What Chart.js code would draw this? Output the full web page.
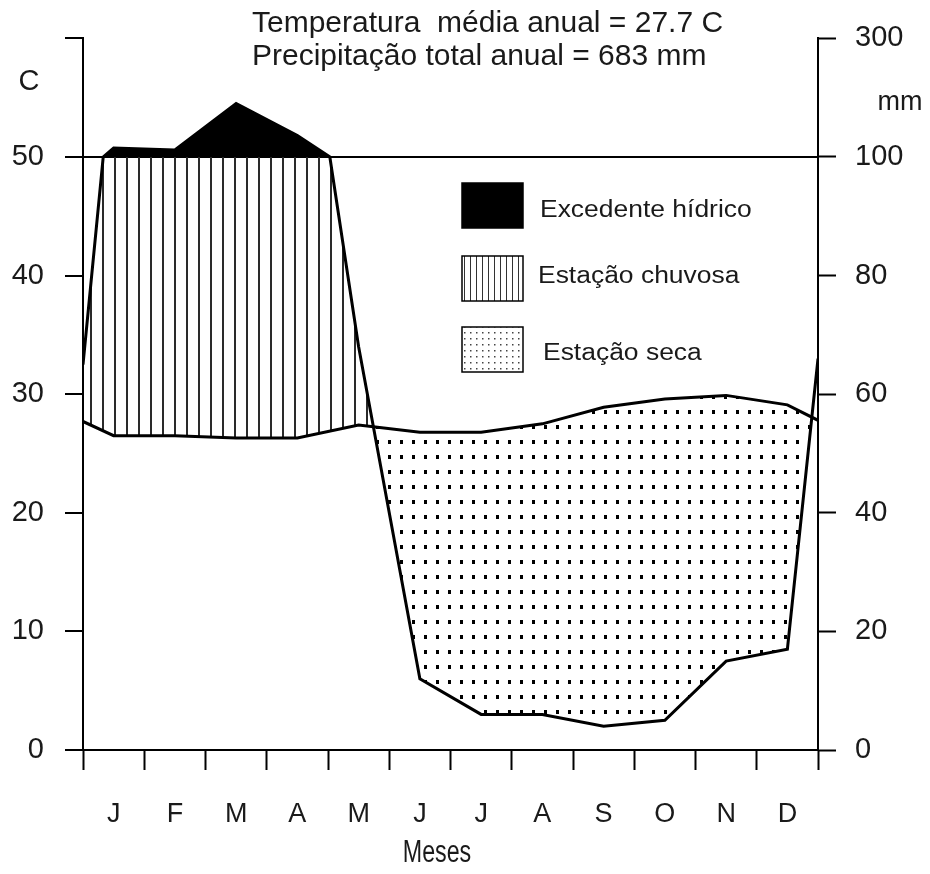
<!DOCTYPE html>
<html lang="pt">
<head>
<meta charset="utf-8">
<title>Diagrama climático</title>
<script src="https://cdn.jsdelivr.net/npm/chart.js@4.4.1/dist/chart.umd.min.js"></script>
<style>
  html, body { margin: 0; padding: 0; background: #fff; }
  canvas { display: block; }
</style>
</head>
<body>
<canvas id="chart" width="930" height="874"></canvas>
<script>
// meses
const months = ['J', 'F', 'M', 'A', 'M', 'J', 'J', 'A', 'S', 'O', 'N', 'D'];
// temperatura média mensal (C)
const temperature = [26.5, 26.5, 26.3, 26.3, 27.4, 26.8, 26.8, 27.5, 28.9, 29.6, 29.9, 29.1];
// precipitação mensal (mm)
const precipitation = [115, 112, 190, 136, 68, 12, 6, 6, 4, 5, 15, 17];
// valores nas bordas do diagrama (início, fim)
const temperatureEdges = [27.7, 27.8];
const precipitationEdges = [65, 66];
// pontos onde a curva de chuva cruza 100 mm (posição em meses)
const precipCrossX = [0.33, 4.03];
const precipCrossMm = [100, 100];
// rótulos dos eixos
const tempTicks = [0, 10, 20, 30, 40, 50];
const precipTicks = [0, 20, 40, 60, 80, 100, 300];
const legendLabels = ['Excedente hídrico', 'Estação chuvosa', 'Estação seca'];
const titleLines = ['Temperatura  média anual = 27.7 C', 'Precipitação total anual = 683 mm'];

const fontFamily = '"Liberation Sans", Arial, sans-serif';
const textColor = '#1a1a1a';

// escala de Walter-Lieth: 10 C = 20 mm até 100 mm, depois comprimida
function mmToUnits(mm) {
    return mm <= 100 ? mm / 2 : 50 + (mm - 100) / 20;
}

function toPoints(values, edges, convert = v => v, extraX = [], extraY = []) {
    const pts = [{ x: 0, y: convert(edges[0]) }];
    values.forEach((v, i) => pts.push({ x: i + 0.5, y: convert(v) }));
    pts.push({ x: values.length, y: convert(edges[1]) });
    extraX.forEach((x, i) => pts.push({ x: x, y: convert(extraY[i]) }));
    return pts.sort((a, b) => a.x - b.x);
}

const canvas = document.getElementById('chart');
const mainCtx = canvas.getContext('2d');

function makePattern(w, h, draw) {
    const c = document.createElement('canvas');
    c.width = w;
    c.height = h;
    draw(c.getContext('2d'));
    return mainCtx.createPattern(c, 'repeat');
}

const hatch = makePattern(12, 12, g => { g.fillStyle = '#2a2a2a'; g.fillRect(6, 0, 2, 12); });
const dots = makePattern(12, 15, g => { g.fillStyle = '#000'; g.fillRect(4, 5, 3, 4); });
const hatchSmall = makePattern(6, 6, g => { g.fillStyle = '#333'; g.fillRect(2, 0, 1, 6); });
const dotsSmall = makePattern(6, 6, g => { g.fillStyle = '#444'; g.fillRect(2, 2, 1.5, 1.5); });

function drawText(ctx, text, x, y, size, opts = {}) {
    ctx.save();
    ctx.font = `${size}px ${fontFamily}`;
    ctx.fillStyle = textColor;
    ctx.textAlign = opts.align || 'left';
    ctx.textBaseline = 'alphabetic';
    ctx.translate(x, y);
    ctx.scale(opts.scaleX || 1, 1);
    ctx.fillText(text, 0, 0);
    ctx.restore();
}

const annotations = {
    id: 'annotations',
    afterDraw(chart) {
        const ctx = chart.ctx;
        // título
        drawText(ctx, titleLines[0], 252, 32, 30);
        drawText(ctx, titleLines[1], 252, 65, 30);
        // unidades
        drawText(ctx, 'C', 29, 90, 29, { align: 'center' });
        drawText(ctx, 'mm', 900, 110, 27, { align: 'center' });
        drawText(ctx, 'Meses', 437, 862, 31, { align: 'center', scaleX: 0.75 });

        // legenda
        const boxes = [
            { y: 183, fill: '#000' },
            { y: 256, fill: hatchSmall },
            { y: 327, fill: dotsSmall }
        ];
        const textPos = [[540, 217], [538, 283], [543, 360]];
        boxes.forEach((b, i) => {
            ctx.save();
            ctx.fillStyle = '#fff';
            ctx.fillRect(462, b.y, 61, 45);
            ctx.fillStyle = b.fill;
            ctx.fillRect(462, b.y, 61, 45);
            ctx.strokeStyle = '#000';
            ctx.lineWidth = 1.5;
            ctx.strokeRect(462, b.y, 61, 45);
            ctx.restore();
            drawText(ctx, legendLabels[i], textPos[i][0], textPos[i][1], 23, { scaleX: 1.15 });
        });
    }
};

Chart.defaults.font.family = fontFamily;
Chart.defaults.color = textColor;

const yMax = mmToUnits(precipTicks[precipTicks.length - 1]);
const precipPoints = toPoints(precipitation, precipitationEdges, mmToUnits, precipCrossX, precipCrossMm);

new Chart(mainCtx, {
    type: 'line',
    data: {
        datasets: [
            {
                label: 'Temperatura',
                data: toPoints(temperature, temperatureEdges),
                borderColor: '#000',
                borderWidth: 3,
                backgroundColor: 'transparent',
                pointRadius: 0,
                fill: false,
                yAxisID: 'y'
            },
            {
                label: 'Precipitação',
                data: precipPoints,
                borderColor: '#000',
                borderWidth: 3,
                backgroundColor: 'transparent',
                pointRadius: 0,
                fill: { target: { value: 50 }, above: '#000', below: 'transparent' },
                yAxisID: 'y'
            },
            {
                label: 'Estações',
                data: precipPoints,
                borderWidth: 0,
                borderColor: 'transparent',
                backgroundColor: 'transparent',
                pointRadius: 0,
                fill: { target: 0, above: hatch, below: dots },
                yAxisID: 'y'
            }
        ]
    },
    options: {
        responsive: false,
        animation: false,
        devicePixelRatio: 1,
        layout: { padding: { top: 34, left: 0, right: 0, bottom: 0 } },
        plugins: {
            legend: { display: false },
            tooltip: { enabled: false }
        },
        scales: {
            x: {
                type: 'linear',
                min: 0,
                max: 12,
                afterBuildTicks: scale => {
                    scale.ticks = Array.from({ length: 25 }, (_, i) => ({ value: i / 2 }));
                },
                afterFit: scale => { scale.height = 124; },
                border: { display: true, color: '#000', width: 2 },
                grid: {
                    color: 'transparent',
                    tickColor: ctx => (ctx.tick && Number.isInteger(ctx.tick.value) ? '#000' : 'transparent'),
                    tickLength: 20,
                    tickWidth: 2
                },
                ticks: {
                    autoSkip: false,
                    maxRotation: 0,
                    padding: 28,
                    font: { size: 27 },
                    callback: v => (v % 1 === 0.5 ? months[Math.floor(v)] : '')
                }
            },
            y: {
                position: 'left',
                min: 0,
                max: yMax,
                afterBuildTicks: scale => {
                    scale.ticks = tempTicks.concat([yMax]).map(v => ({ value: v }));
                },
                afterFit: scale => { scale.width = 83; },
                border: { display: true, color: '#000', width: 2 },
                grid: {
                    color: ctx => (ctx.tick && ctx.tick.value === 50 ? '#000' : 'transparent'),
                    lineWidth: 2,
                    tickColor: '#000',
                    tickLength: 18,
                    tickWidth: 2
                },
                ticks: {
                    padding: 21,
                    font: { size: 29 },
                    callback: v => (tempTicks.includes(v) ? String(v) : '')
                }
            },
            y1: {
                position: 'right',
                min: 0,
                max: yMax,
                afterBuildTicks: scale => {
                    scale.ticks = precipTicks.map(mm => ({ value: mmToUnits(mm) }));
                },
                afterFit: scale => { scale.width = 112; },
                border: { display: true, color: '#000', width: 2 },
                grid: {
                    drawOnChartArea: false,
                    tickColor: '#000',
                    tickLength: 18,
                    tickWidth: 2
                },
                ticks: {
                    padding: 19,
                    font: { size: 29 },
                    callback: (v, i) => String(precipTicks[i])
                }
            }
        }
    },
    plugins: [annotations]
});
</script>
</body>
</html>
